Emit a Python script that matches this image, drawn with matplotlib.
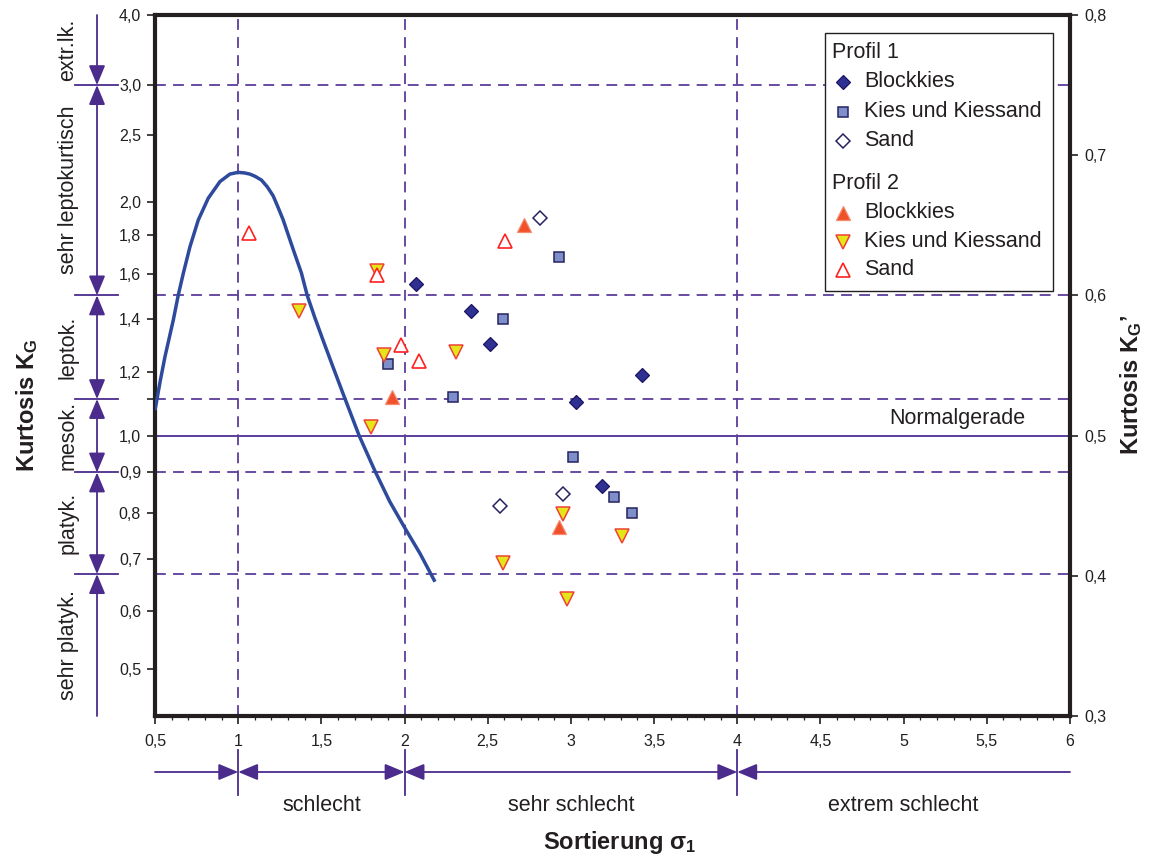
import numpy as np
import matplotlib
matplotlib.use('Agg')
import matplotlib.pyplot as plt
from matplotlib.transforms import blended_transform_factory
from matplotlib.ticker import FixedLocator, NullFormatter, MultipleLocator
from matplotlib.patches import Rectangle

plt.rcParams['font.family'] = ['Liberation Sans', 'DejaVu Sans']
plt.rcParams['mathtext.fontset'] = 'custom'
plt.rcParams['mathtext.rm'] = 'Liberation Sans'
plt.rcParams['mathtext.bf'] = 'Liberation Sans:bold'
plt.rcParams['mathtext.it'] = 'Liberation Sans:italic'

# ---------------- data ----------------
p1_block_x = [2.07, 2.40, 2.515, 3.425, 3.032, 3.188]
p1_block_k = [1.55, 1.432, 1.302, 1.189, 1.101, 0.865]
p1_kies_x = [2.926, 2.59, 1.898, 2.291, 3.014, 3.257, 3.368]
p1_kies_k = [1.685, 1.400, 1.228, 1.116, 0.940, 0.839, 0.802]
p1_sand_x = [2.812, 2.952, 2.575]
p1_sand_k = [1.902, 0.846, 0.817]
p2_block_x = [2.716, 1.924, 2.93]
p2_block_k = [1.857, 1.116, 0.770]
p2_kies_x = [1.364, 1.834, 1.876, 2.307, 1.798, 2.952, 3.305, 2.589, 2.974]
p2_kies_k = [1.432, 1.613, 1.26, 1.272, 1.026, 0.799, 0.750, 0.692, 0.621]
p2_sand_x = [1.065, 1.834, 1.978, 2.087, 2.603]
p2_sand_k = [1.811, 1.596, 1.296, 1.239, 1.769]

curve_x = [0.5, 0.53, 0.56, 0.61, 0.64, 0.67, 0.71, 0.76, 0.82, 0.89, 0.95, 1.0,
           1.04, 1.07, 1.10, 1.14, 1.175, 1.21, 1.24, 1.27, 1.30, 1.33, 1.38, 1.415,
           1.46, 1.51, 1.57, 1.632, 1.68, 1.727, 1.822, 1.911, 2.002, 2.093, 2.183]
curve_k = [1.075, 1.165, 1.254, 1.395, 1.502, 1.602, 1.737, 1.888, 2.024, 2.136, 2.19, 2.203,
           2.198, 2.19, 2.175, 2.147, 2.10, 2.04, 1.965, 1.89, 1.805, 1.725, 1.604, 1.5,
           1.406, 1.315, 1.217, 1.125, 1.06, 1.0, 0.904, 0.828, 0.767, 0.712, 0.655]

kurt_bounds = [4.0, 3.0, 1.5, 1.11, 0.9, 0.67]
kurt_classes = ['extr.lk.', 'sehr leptokurtisch', 'leptok.', 'mesok.', 'platyk.', 'sehr platyk.']
sort_bounds = [0.5, 1, 2, 4, 6]
sort_classes = ['', 'schlecht', 'sehr schlecht', 'extrem schlecht']

x_ticks = [0.5, 1, 1.5, 2, 2.5, 3, 3.5, 4, 4.5, 5, 5.5, 6]
x_labels = ['0,5', '1', '1,5', '2', '2,5', '3', '3,5', '4', '4,5', '5', '5,5', '6']
k_ticks = [0.5, 0.6, 0.7, 0.8, 0.9, 1.0, 1.2, 1.4, 1.6, 1.8, 2.0, 2.5, 3.0, 4.0]
k_labels = ['0,5', '0,6', '0,7', '0,8', '0,9', '1,0', '1,2', '1,4', '1,6', '1,8',
            '2,0', '2,5', '3,0', '4,0']
kp_ticks = [0.3, 0.4, 0.5, 0.6, 0.7, 0.8]
kp_labels = ['0,3', '0,4', '0,5', '0,6', '0,7', '0,8']

# ---------------- helpers ----------------
def fwd(k):
    k = np.asarray(k, dtype=float)
    with np.errstate(divide='ignore', invalid='ignore'):
        return k / (1.0 + k)

def inv(y):
    y = np.clip(np.asarray(y, dtype=float), -0.5, 0.99999)
    return y / (1.0 - y)

PURPLE = '#5b3d9b'
ARROW = '#4b2c8c'
DARK = '#231f20'

fig = plt.figure(figsize=(11.54, 8.61), dpi=100)
ax = fig.add_axes([0.13432, 0.16841, 0.79289, 0.81417])
ax.set_xlim(0.5, 6)
ax.set_yscale('function', functions=(fwd, inv))
ybot = float(inv(0.3))
ax.set_ylim(ybot, 4.0)

for s in ax.spines.values():
    s.set_linewidth(3)
    s.set_color(DARK)

ax.set_xticks(x_ticks)
ax.set_xticklabels(x_labels)
ax.xaxis.set_minor_locator(MultipleLocator(0.1))
ax.set_yticks(k_ticks)
ax.set_yticklabels(k_labels)
ax.yaxis.set_minor_locator(FixedLocator([1.11]))
ax.yaxis.set_minor_formatter(NullFormatter())
ax.tick_params(axis='both', which='major', direction='out', length=6, width=1.2,
               color=DARK, labelsize=11.5, labelcolor=DARK, pad=4)
ax.tick_params(axis='x', which='minor', direction='out', length=3, width=0.9, color=DARK)
ax.tick_params(axis='y', which='minor', direction='out', length=6, width=1.2, color=DARK)
ax.tick_params(axis='x', which='major', pad=7)

ax2 = ax.twinx()
ax2.set_ylim(0.3, 0.8)
ax2.set_yticks(kp_ticks)
ax2.set_yticklabels(kp_labels)
ax2.tick_params(axis='y', direction='out', length=6, width=1.2, color=DARK,
                labelsize=11.5, labelcolor=DARK, pad=4)
for s in ax2.spines.values():
    s.set_visible(False)

# class lines
dash = (0, (6, 4))
for b in kurt_bounds[1:]:
    ax.axhline(b, color=PURPLE, lw=1.3, ls=dash, zorder=1)
for b in sort_bounds[1:-1]:
    ax.axvline(b, color=PURPLE, lw=1.3, ls=dash, zorder=1)
ax.axhline(1.0, color=PURPLE, lw=1.4, zorder=1)
ax.annotate('Normalgerade', xy=(5.32, 1.0), xytext=(0, 5), textcoords='offset points',
            ha='center', va='bottom', fontsize=15.5, color=DARK)

# curve
ax.plot(curve_x, curve_k, color='#2e4a9c', lw=2.5, zorder=3, solid_capstyle='butt',
        solid_joinstyle='round')

# points
mk = dict(ls='none', zorder=4)
st_p1_block = dict(marker='D', ms=6.8, mfc='#2e3192', mec='#1b1464', mew=0.9)
st_p1_kies = dict(marker='s', ms=6.5, mfc='#7d8ec8', mec='#262262', mew=1.1)
st_p1_sand = dict(marker='D', ms=6.8, mfc='white', mec='#262262', mew=1.1)
st_p2_block = dict(marker='^', ms=9.5, mfc='#f0502a', mec='#f58a6e', mew=0.9)
st_p2_kies = dict(marker='v', ms=9.5, mfc='#e4e619', mec='#ef4136', mew=1.1)
st_p2_sand = dict(marker='^', ms=9.5, mfc='white', mec='#ff2020', mew=1.2)
ax.plot(p1_block_x, p1_block_k, **st_p1_block, **mk)
ax.plot(p1_kies_x, p1_kies_k, **st_p1_kies, **mk)
ax.plot(p1_sand_x, p1_sand_k, **st_p1_sand, **mk)
ax.plot(p2_block_x, p2_block_k, **st_p2_block, **mk)
ax.plot(p2_kies_x, p2_kies_k, **st_p2_kies, **mk)
ax.plot(p2_sand_x, p2_sand_k, **st_p2_sand, **mk)

# left kurtosis classification
tl = blended_transform_factory(ax.transAxes, ax.transData)
xa = (97 - 155) / 915
xt = (68 - 155) / 915
edges = kurt_bounds + [ybot]
astyle_kw = dict(color=ARROW, lw=1.3, shrinkA=0, shrinkB=0, mutation_scale=10)
one = '-|>,head_length=1.2,head_width=0.5'
two = '<|-|>,head_length=1.2,head_width=0.5'
for i in range(len(edges) - 1):
    top, low = edges[i], edges[i + 1]
    if i == 0:
        xy, xyt, sty = (xa, low), (xa, top), one
    elif i == len(edges) - 2:
        xy, xyt, sty = (xa, top), (xa, low), one
    else:
        xy, xyt, sty = (xa, low), (xa, top), two
    ax.annotate('', xy=xy, xytext=xyt, xycoords=tl, textcoords=tl,
                arrowprops=dict(arrowstyle=sty, **astyle_kw), annotation_clip=False)
    mid = float(inv((fwd(top) + fwd(low)) / 2))
    ax.text(xt, mid, kurt_classes[i], transform=tl, rotation=90, ha='center', va='center',
            fontsize=15.5, color=DARK, clip_on=False)
for b in kurt_bounds[1:]:
    ax.plot([(75 - 155) / 915, (118 - 155) / 915], [b, b], transform=tl, color=ARROW,
            lw=1.3, clip_on=False)

# bottom sorting classification
tb = blended_transform_factory(ax.transData, ax.transAxes)
ya = (716 - 772) / 701
yt = (716 - 806) / 701
for i in range(len(sort_bounds) - 1):
    a, b = sort_bounds[i], sort_bounds[i + 1]
    if i == 0:
        xy, xyt, sty = (b, ya), (a, ya), one
    elif i == len(sort_bounds) - 2:
        xy, xyt, sty = (a, ya), (b, ya), one
    else:
        xy, xyt, sty = (b, ya), (a, ya), two
    ax.annotate('', xy=xy, xytext=xyt, xycoords=tb, textcoords=tb,
                arrowprops=dict(arrowstyle=sty, **astyle_kw), annotation_clip=False)
    if sort_classes[i]:
        ax.text((a + b) / 2, yt, sort_classes[i], transform=tb, ha='center', va='center',
                fontsize=15.5, color=DARK, clip_on=False)
for b in sort_bounds[1:-1]:
    ax.plot([b, b], [(716 - 750) / 701, (716 - 795) / 701], transform=tb, color=ARROW,
            lw=1.3, clip_on=False)

# axis labels
fig.text(27 / 1154, 1 - 405 / 861, r'Kurtosis $\mathbf{K_G}$', rotation=90, ha='center',
         va='center', fontsize=17, fontweight='bold', color=DARK)
fig.text(1131 / 1154, 1 - 385 / 861, r'Kurtosis $\mathbf{K_G}$’', rotation=90, ha='center',
         va='center', fontsize=17, fontweight='bold', color=DARK)
fig.text(620 / 1154, 1 - 842 / 861, r'Sortierung $\mathbf{σ_1}$', ha='center', va='center',
         fontsize=17, fontweight='bold', color=DARK)

# legend (manual layout)
def fx(px):
    return (px - 155) / 915

def fy(py):
    return (716 - py) / 701

ax.add_patch(Rectangle((fx(825), fy(291)), fx(1053) - fx(825), fy(33) - fy(291),
                       transform=ax.transAxes, fc='white', ec=DARK, lw=1.0, zorder=6))
legend_rows = [
    ('Profil 1', None, 53),
    ('Blockkies', st_p1_block, 82),
    ('Kies und Kiessand', st_p1_kies, 112),
    ('Sand', st_p1_sand, 141),
    ('Profil 2', None, 184),
    ('Blockkies', st_p2_block, 213),
    ('Kies und Kiessand', st_p2_kies, 242),
    ('Sand', st_p2_sand, 270),
]
for label, style, py in legend_rows:
    if style is None:
        ax.text(fx(832), fy(py), label, transform=ax.transAxes, ha='left', va='center',
                fontsize=15.5, color=DARK, zorder=7)
    else:
        ax.plot([fx(843)], [fy(py)], transform=ax.transAxes, ls='none', zorder=7,
                clip_on=False, **style)
        ax.text(fx(864), fy(py), label, transform=ax.transAxes, ha='left', va='center',
                fontsize=15.5, color=DARK, zorder=7)

fig.savefig('out.png', dpi=100)
